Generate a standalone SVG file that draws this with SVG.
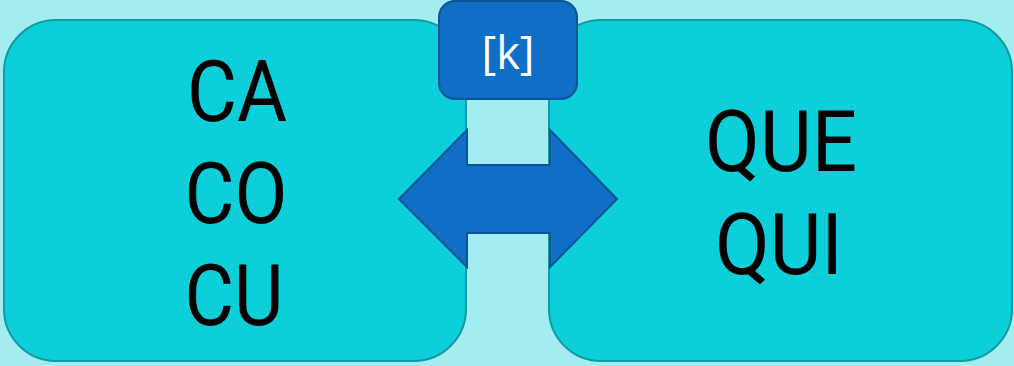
<svg xmlns="http://www.w3.org/2000/svg" width="1014" height="366" viewBox="0 0 1014 366">
<style>
.box{fill:#0CCFDA;stroke:#119AA0;stroke-width:2}
.big{font-family:Roboto,"Open Sans",sans-serif;font-size:86px;fill:#000;text-anchor:middle}
.lbl{font-family:"Open Sans","DejaVu Sans",sans-serif;font-size:45px;fill:#fff;text-anchor:middle}
</style>
<rect width="1014" height="366" fill="#A3ECEF"/>
<g id="left">
<rect class="box" x="4" y="20" width="462" height="341" rx="52"/>
<text class="big" x="237" y="121" textLength="100" lengthAdjust="spacingAndGlyphs">CA</text>
<text class="big" x="236" y="223" textLength="103" lengthAdjust="spacingAndGlyphs">CO</text>
<text class="big" x="234" y="325" textLength="99" lengthAdjust="spacingAndGlyphs">CU</text>
</g>
<g id="right">
<rect class="box" x="549" y="20" width="463" height="341" rx="52"/>
<text class="big" x="781" y="171" textLength="152" lengthAdjust="spacingAndGlyphs">QUE</text>
<text class="big" x="779" y="274" textLength="128" lengthAdjust="spacingAndGlyphs">QUI</text>
</g>
<g id="connectors">
<polygon points="399,199 467,130 467,165 550,165 550,130 617,199 550,267 550,233 467,233 467,267" fill="#0F6FC6" stroke="#0B5497" stroke-width="2" stroke-linejoin="miter"/>
</g>
<g id="k">
<rect x="439" y="1" width="138" height="98" rx="16" fill="#0F6FC6" stroke="#0B5497" stroke-width="2"/>
<text class="lbl" x="508" y="69">[k]</text>
</g>
</svg>
